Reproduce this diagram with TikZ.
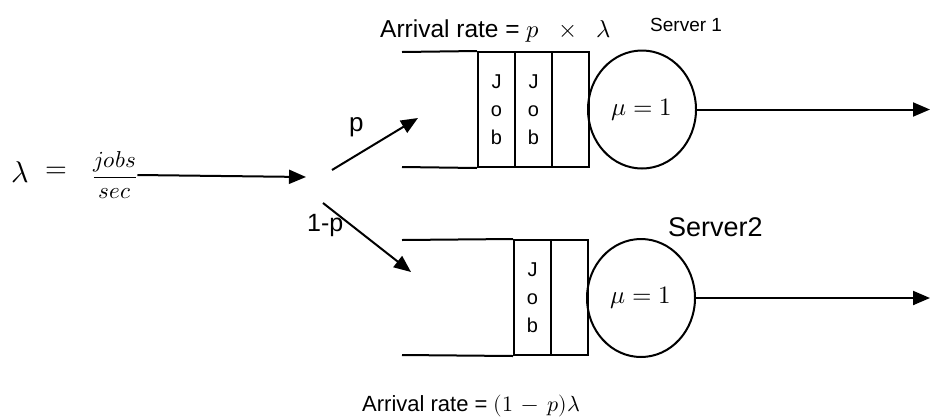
\documentclass[tikz,border=0pt]{standalone}
\usepackage{amsmath}
\usepackage{fontspec}
\usepackage{unicode-math}
\setmainfont{Liberation Sans}
\setmathfont{Latin Modern Math}
\usetikzlibrary{arrows.meta,shapes.geometric}
\begin{document}
\begin{tikzpicture}[x=1pt,y=-1pt,
  line/.style={line width=2pt},
  arr/.style={line width=2pt,-{Triangle[length=17pt,width=14pt]}},
  server/.style={ellipse,draw,line width=2pt,minimum width=108pt,minimum height=118pt,inner sep=0pt,font=\fontsize{25}{28}\selectfont},
  cell/.style={draw,line width=2pt,minimum width=37pt,minimum height=115pt,inner sep=0pt,align=center,font=\fontsize{20}{28}\selectfont},
  lbl/.style={inner sep=0pt,anchor=base west}]
\useasboundingbox (0,0) rectangle (932,416);

% source
\node[inner sep=0pt] (lam) at (20,172) {\fontsize{30}{34}\selectfont$\lambda$};
\node[inner sep=0pt] (eq) at (56,172) {\fontsize{28}{30}\selectfont$=$};
\node[inner sep=0pt] (frac) at (115,175) {\fontsize{23}{26}\selectfont$\dfrac{jobs}{sec}$};
\coordinate (split) at (306,177);
\draw[arr] (frac.east) -- (split);

% split arrows
\coordinate (u0) at (332,170);
\coordinate (u1) at (418,118);
\draw[arr] (u0) -- (u1);
\node[lbl,font=\fontsize{26}{30}\selectfont] (plbl) at (349,131) {p};
\coordinate (l0) at (323,203);
\coordinate (l1) at (411,272);
\draw[arr] (l0) -- (l1);
\node[lbl,font=\fontsize{25}{30}\selectfont] (qlbl) at (307,231) {1-p};

% queue 1
\coordinate (q1tl) at (402,52);
\coordinate (q1bl) at (402,167);
\node[cell] (j11) at (496.5,109.5) {J\\o\\b};
\node[cell] (j12) at (533.5,109.5) {J\\o\\b};
\node[cell] (e13) at (570.5,109.5) {};
\draw[line] (q1tl) -- (j11.north west);
\draw[line] (q1bl) -- (j11.south west);
\node[server] (s1) at (642,109.5) {$\mupmu = 1$};
\coordinate (o1) at (930,109.5);
\draw[arr] (s1.east) -- (o1);
\node[lbl,font=\fontsize{24.5}{28}\selectfont] (ar1) at (380,37) {Arrival rate = $p\;\;\times\;\;\lambda$};
\node[lbl,font=\fontsize{19}{24}\selectfont] (sv1) at (650,31) {Server 1};

% queue 2
\coordinate (q2tl) at (402,240);
\coordinate (q2bl) at (402,355);
\node[cell] (j21) at (532.5,297.5) {J\\o\\b};
\node[cell] (e22) at (569.5,297.5) {};
\draw[line] (q2tl) -- (j21.north west);
\draw[line] (q2bl) -- (j21.south west);
\node[server] (s2) at (641,298) {$\mupmu = 1$};
\coordinate (o2) at (930,298);
\draw[arr] (s2.east) -- (o2);
\node[lbl,font=\fontsize{27}{32}\selectfont] (sv2) at (668,236) {Server2};
\node[lbl,font=\fontsize{22}{26}\selectfont] (ar2) at (362,411) {Arrival rate = $(1\,-\,p)\lambda$};
\end{tikzpicture}
\end{document}
